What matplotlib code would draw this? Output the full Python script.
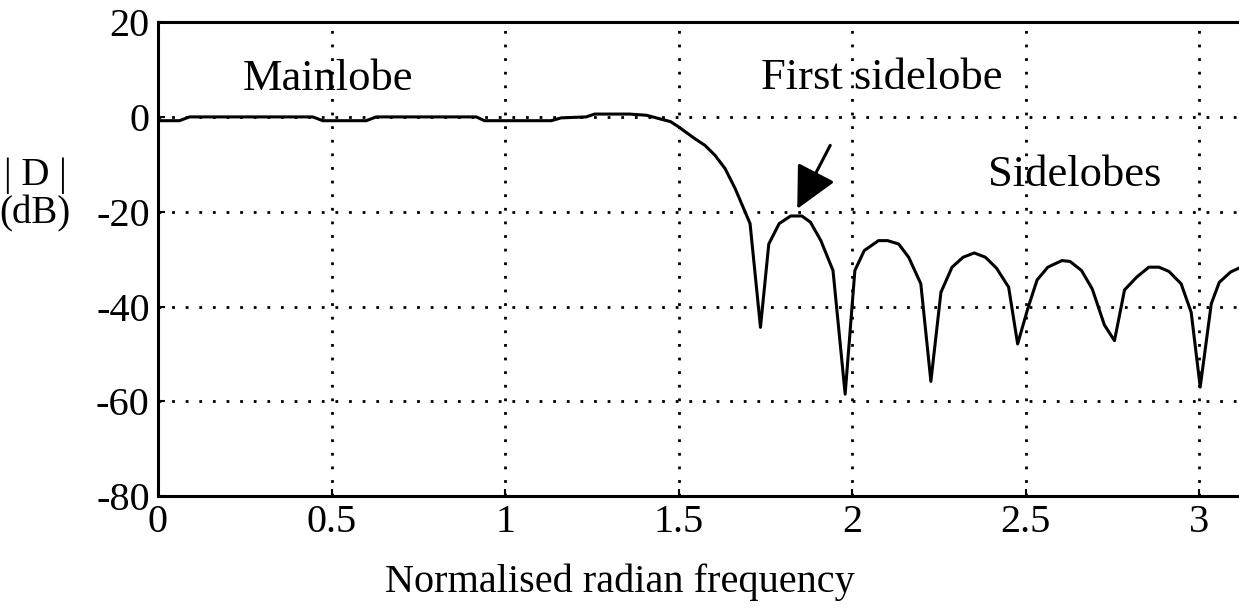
import numpy as np
import matplotlib
matplotlib.use('Agg')
import matplotlib.pyplot as plt

# response (normalised radian freq, dB)
freq = [0.0, 0.062, 0.091, 0.446, 0.475, 0.60, 0.629, 0.917, 0.941, 1.133, 1.162, 1.234,
        1.258, 1.359, 1.407, 1.477, 1.50, 1.547, 1.576, 1.605, 1.634, 1.663, 1.706,
        1.736, 1.760, 1.790, 1.823, 1.855, 1.880, 1.910, 1.945,
        1.980, 2.008, 2.035, 2.076, 2.102, 2.134, 2.163, 2.198,
        2.227, 2.256, 2.288, 2.320, 2.352, 2.384, 2.416, 2.451,
        2.477, 2.506, 2.533, 2.564, 2.605, 2.628, 2.661, 2.692, 2.727,
        2.756, 2.785, 2.820, 2.855, 2.884, 2.913, 2.948, 2.977,
        3.003, 3.035, 3.058, 3.091, 3.1416]
mag_db = [-0.8, -0.8, 0.0, 0.0, -0.8, -0.8, 0.0, 0.0, -0.8, -0.8, -0.2, 0.0,
          0.6, 0.6, 0.35, -1.0, -2.1, -4.6, -6.0, -8.1, -10.9, -15.1, -22.5,
          -44.4, -26.8, -22.5, -20.9, -20.9, -22.2, -26.1, -32.4,
          -58.5, -32.4, -28.2, -26.1, -26.1, -26.8, -29.6, -35.2,
          -55.8, -37.0, -31.7, -29.6, -28.7, -29.6, -31.9, -35.9,
          -47.9, -40.5, -34.4, -31.7, -30.3, -30.5, -32.4, -36.3, -43.9,
          -47.2, -36.5, -33.8, -31.7, -31.7, -32.6, -35.2, -41.2,
          -57.0, -39.4, -34.9, -32.7, -31.0]

xticks = [0, 0.5, 1, 1.5, 2, 2.5, 3]
xticklabels = ['0', '0.5', '1', '1.5', '2', '2.5', '3']
yticks = [-80, -60, -40, -20, 0, 20]
yticklabels = ['-80', '-60', '-40', '-20', '0', '20']

plt.rcParams['font.family'] = ['Liberation Serif', 'DejaVu Serif']

fig = plt.figure(figsize=(12.39, 6.14), dpi=100)
ax = fig.add_axes([0.1275, 0.192, 0.88, 0.772])

ax.plot(freq, mag_db, color='black', lw=2.2, zorder=3)

# dotted grid
for gx in xticks[1:]:
    ax.axvline(gx, color='black', lw=2, linestyle=(0, (1, 3.9)), zorder=1)
for gy in [-60, -40, -20, 0]:
    ax.axhline(gy, color='black', lw=2, linestyle=(0, (1, 3.9)), zorder=1)

ax.set_xlim(0, np.pi)
ax.set_ylim(-80, 20)
ax.set_xticks(xticks)
ax.set_xticklabels(xticklabels)
ax.set_yticks(yticks)
ax.set_yticklabels(yticklabels)
ax.tick_params(direction='in', length=5, width=1.5, labelsize=29, pad=6)

for s in ['left', 'bottom', 'top']:
    ax.spines[s].set_linewidth(2.2)
ax.spines['right'].set_visible(False)

ax.text(0.49, 8, 'Mainlobe', fontsize=32, ha='center', va='center')
ax.text(2.085, 8.3, 'First sidelobe', fontsize=32, ha='center', va='center')
ax.text(2.64, -12.2, 'Sidelobes', fontsize=32, ha='center', va='center')

ax.annotate('', xy=(1.842, -19.4), xytext=(1.937, -6.0),
            arrowprops=dict(arrowstyle='-|>,head_length=1.3,head_width=0.65',
                            color='black', lw=2.2, mutation_scale=20,
                            shrinkA=0, shrinkB=0))

fig.text(35 / 1239, 1 - 195 / 614, '| D |\n(dB)', fontsize=28, ha='center', va='center',
         linespacing=1.05)
fig.text(620 / 1239, 1 - 582 / 614, 'Normalised radian frequency', fontsize=29,
         ha='center', va='center')

fig.savefig('out.png', dpi=100)
